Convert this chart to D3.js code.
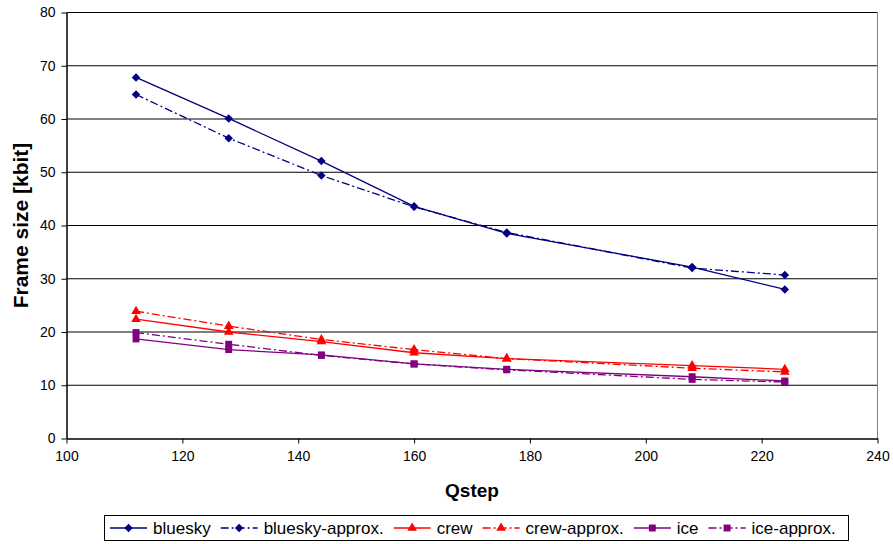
<!DOCTYPE html>
<html>
<head>
<meta charset="utf-8">
<script src="https://cdn.jsdelivr.net/npm/d3@7/dist/d3.min.js"></script>
<style>
body{margin:0;background:#fff;}
svg text{font-family:"Liberation Sans",Arial,sans-serif;fill:#000;}
</style>
</head>
<body>
<svg width="893" height="544"></svg>
<script>
const svg=d3.select('svg');
const width=+svg.attr('width');
const height=+svg.attr('height');

// data
const qstep=[112,128,144,160,176,208,224];
const bluesky=[67.8,60.1,52.1,43.6,38.5,32.2,28.0];
const blueskyApprox=[64.6,56.4,49.4,43.5,38.7,32.0,30.7];
const crew=[22.4,20.0,18.2,16.1,15.0,13.7,13.0];
const crewApprox=[23.9,21.1,18.6,16.7,15.0,13.2,12.5];
const ice=[18.7,16.7,15.7,14.0,13.0,11.6,10.8];
const iceApprox=[19.9,17.7,15.6,14.0,12.9,11.1,10.6];
const xTicks=[100,120,140,160,180,200,220,240];
const yTicks=[0,10,20,30,40,50,60,70,80];

// square diamond (excel style), d3's own diamond is too tall
const squareDiamond={
  draw(ctx,size){
    const r=Math.sqrt(size/2);
    ctx.moveTo(0,-r);ctx.lineTo(r,0);ctx.lineTo(0,r);ctx.lineTo(-r,0);ctx.closePath();
  }
};

const series=[
  {name:'bluesky',values:bluesky,color:'#000080',marker:squareDiamond,dash:null,size:36},
  {name:'bluesky-approx.',values:blueskyApprox,color:'#000080',marker:squareDiamond,dash:'8,3,2,3',size:36},
  {name:'crew',values:crew,color:'#ff0000',marker:d3.symbolTriangle,dash:null,size:40},
  {name:'crew-approx.',values:crewApprox,color:'#ff0000',marker:d3.symbolTriangle,dash:'8,3,2,3',size:40},
  {name:'ice',values:ice,color:'#800080',marker:d3.symbolSquare,dash:null,size:48},
  {name:'ice-approx.',values:iceApprox,color:'#800080',marker:d3.symbolSquare,dash:'8,3,2,3',size:48}
];

const plot={left:66.5,right:877.5,top:12.5,bottom:438.5};

const x=d3.scaleLinear().domain([100,240]).range([plot.left,plot.right]);
const y=d3.scaleLinear().domain([0,80]).range([plot.bottom,plot.top]);

/* grid */
svg.append('g')
  .selectAll('line')
  .data(yTicks.filter(d=>d>0))
  .join('line')
  .attr('x1',plot.left).attr('x2',plot.right)
  .attr('y1',d=>y(d)).attr('y2',d=>y(d))
  .attr('stroke','#000').attr('stroke-width',1);

// right border
svg.append('line')
  .attr('x1',plot.right).attr('x2',plot.right)
  .attr('y1',plot.top).attr('y2',plot.bottom)
  .attr('stroke','#808080');

/* axes */
const xAxis=d3.axisBottom(x).tickValues(xTicks).tickSize(5).tickSizeOuter(0).tickPadding(8);
const yAxis=d3.axisLeft(y).tickValues(yTicks).tickSize(5).tickSizeOuter(0).tickPadding(6);

const gx=svg.append('g').attr('transform',`translate(0,${plot.bottom})`).call(xAxis);
const gy=svg.append('g').attr('transform',`translate(${plot.left},0)`).call(yAxis);
[gx,gy].forEach(g=>{
  g.select('.domain').attr('stroke','#000').attr('stroke-width',1.5);
  g.selectAll('.tick line').attr('stroke','#000');
  g.selectAll('.tick text').style('font-size','14px').style('font-family','"Liberation Sans",Arial,sans-serif').attr('fill','#000');
});

/* lines */
const line=d3.line().x((d,i)=>x(qstep[i])).y(d=>y(d));
series.forEach(s=>{
  svg.append('path')
    .attr('d',line(s.values))
    .attr('fill','none')
    .attr('stroke',s.color)
    .attr('stroke-width',1.3)
    .attr('stroke-dasharray',s.dash);
  svg.append('g')
    .selectAll('path')
    .data(s.values)
    .join('path')
    .attr('transform',(d,i)=>`translate(${x(qstep[i])},${y(d)})`)
    .attr('d',d3.symbol().type(s.marker).size(s.size))
    .attr('fill',s.color);
});

/* titles */
svg.append('text')
  .attr('x',(plot.left+plot.right)/2)
  .attr('y',497)
  .attr('text-anchor','middle')
  .style('font-size','19px')
  .style('font-weight','bold')
  .text('Qstep');

svg.append('text')
  .attr('transform',`translate(28,${(plot.top+plot.bottom)/2})rotate(-90)`)
  .attr('text-anchor','middle')
  .style('font-size','21px')
  .style('font-weight','bold')
  .text('Frame size [kbit]');

/* legend */
const legend=svg.append('g');
legend.append('rect')
  .attr('x',104.5).attr('y',515.5)
  .attr('width',744).attr('height',25)
  .attr('fill','#fff').attr('stroke','#000');
let cx=110;
series.forEach(s=>{
  const ly=528;
  legend.append('line')
    .attr('x1',cx).attr('x2',cx+37)
    .attr('y1',ly).attr('y2',ly)
    .attr('stroke',s.color).attr('stroke-width',1.6)
    .attr('stroke-dasharray',s.dash);
  legend.append('path')
    .attr('transform',`translate(${cx+18.5},${ly})`)
    .attr('d',d3.symbol().type(s.marker).size(s.size))
    .attr('fill',s.color);
  const t=legend.append('text')
    .attr('x',cx+43).attr('y',ly+6)
    .style('font-size','17px')
    .text(s.name);
  cx+=43+t.node().getComputedTextLength()+10;
});
</script>
</body>
</html>
